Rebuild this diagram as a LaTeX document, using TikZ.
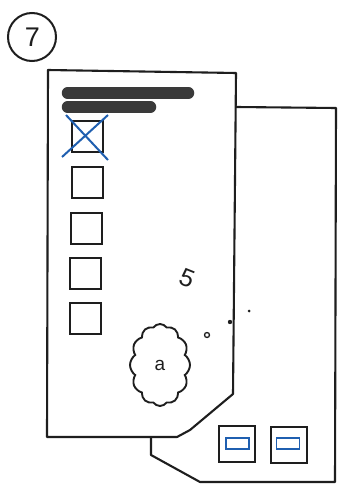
\documentclass[tikz,border=0pt]{standalone}
\usepackage{fontspec}
\setsansfont{Liberation Sans}
\usetikzlibrary{shapes.symbols}
\definecolor{barcol}{HTML}{3A3A3A}
\definecolor{inkblue}{HTML}{1F5FB0}
\definecolor{ink}{HTML}{1E1E1E}
\tikzset{
  outline/.style={draw=ink, line width=2.1pt, line join=round},
  chk/.style={draw=ink, line width=2pt, minimum size=31pt, inner sep=0pt},
  port/.style={draw=ink, line width=2pt, minimum width=36pt, minimum height=36pt, inner sep=0pt},
  slot/.style={draw=inkblue, line width=1.8pt, minimum width=23pt, minimum height=11pt, inner sep=0pt},
  bar/.style={line width=11.5pt, line cap=round, draw=barcol},
  cross/.style={draw=inkblue, line width=2pt},
  hand/.style={font=\sffamily, text=ink}
}
\begin{document}
\begin{tikzpicture}[x=1pt,y=-1pt]
\useasboundingbox (0,0) rectangle (338,484);
\fill[white] (0,0) rectangle (338,484);
% number badge
\node[draw=ink, line width=2pt, circle, minimum size=48pt, inner sep=0pt] (badge) at (32,37) {};
\node[hand, font=\sffamily\fontsize{27}{27}\selectfont] (seven) at (32.5,37) {7};
% back panel
\draw[outline] (236,107) -- (336,108) -- (335,482) -- (200,482) -- (151,455) -- (151,437);
% front panel
\filldraw[outline, fill=white] (48,70) -- (236,73) -- (233,394) -- (190,430) -- (177,437) -- (47,437) -- cycle;
% title bars
\draw[bar] (67.5,93) -- (188.5,93);
\draw[bar] (67.5,107) -- (150.5,107);
% checkboxes
\node[chk] (c1) at (87.5,136.5) {};
\node[chk] (c2) at (87,182.5) {};
\node[chk] (c3) at (86.5,228) {};
\node[chk] (c4) at (85.5,273) {};
\node[chk] (c5) at (85,318) {};
\draw[cross] (66,115) -- (108,160);
\draw[cross] (108,115) -- (62,157);
% number 5
\node[hand, font=\sffamily\fontsize{25}{25}\selectfont, rotate=-22] (five) at (187,278) {5};
% dots
\draw[ink, line width=1.3pt] (207,335) circle (2.5);
\fill[ink] (230,322) circle (2.2);
\fill[ink] (249,311) circle (1.5);
% cloud
\node[cloud, draw=ink, line width=1.9pt, cloud puffs=12, cloud puff arc=110, aspect=0.72,
      minimum width=60pt, minimum height=82pt, inner sep=0pt, hand,
      font=\sffamily\fontsize{19}{19}\selectfont] (cloudA) at (160,365) {a};
% ports on back panel
\node[port] (p1) at (237,444) {};
\node[port] (p2) at (288.5,444.5) {};
\node[slot] (s1) at (237.5,443.5) {};
\node[slot] (s2) at (288,443.5) {};
\end{tikzpicture}
\end{document}
